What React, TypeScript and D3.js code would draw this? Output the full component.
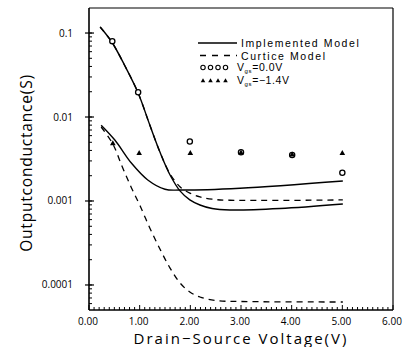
import React from "react";
import * as d3 from "d3";

// Drain-source voltage (V) vs output conductance (S)
const implV0_V = [0.22, 0.45, 0.71, 0.97, 1.2, 1.4, 1.6, 1.8, 1.99, 2.19, 2.43, 2.78, 3.77, 5.01];
const implV0_G = [0.118, 0.0782, 0.0405, 0.0193, 0.00803, 0.00383, 0.00204, 0.00131, 0.00103, 0.000896, 0.000813, 0.000781, 0.000813, 0.00092];

const implV14_V = [0.24, 0.51, 0.84, 1.16, 1.5, 1.8, 2.98, 5.01];
const implV14_G = [0.0080, 0.00532, 0.00281, 0.00178, 0.00138, 0.00135, 0.00142, 0.00173];

const curtV0_V = [0.22, 0.45, 0.71, 0.97, 1.2, 1.4, 1.6, 1.8, 1.99, 2.19, 2.43, 2.78, 5.01];
const curtV0_G = [0.118, 0.0782, 0.0405, 0.0193, 0.00803, 0.00383, 0.0021, 0.00147, 0.00124, 0.00112, 0.00105, 0.00102, 0.00103];

const curtV14_V = [0.24, 0.47, 0.65, 0.83, 1.01, 1.2, 1.4, 1.6, 1.8, 1.99, 2.19, 2.49, 2.98, 5.01];
const curtV14_G = [0.0076, 0.00478, 0.00261, 0.00147, 0.00087, 0.000477, 0.000268, 0.000159, 0.000105, 0.0000824, 0.0000719, 0.0000653, 0.0000636, 0.0000627];

const measV0_V = [0.46, 0.97, 1.99, 3.0, 4.01, 5.0];
const measV0_G = [0.080, 0.0197, 0.0051, 0.0038, 0.00353, 0.00217];

const measV14_V = [0.47, 0.99, 2.0, 3.0, 4.01, 5.0];
const measV14_G = [0.0049, 0.00376, 0.00376, 0.0038, 0.0036, 0.00376];

const xTicks = [0, 1, 2, 3, 4, 5, 6];
const xTickLabels = ["0.00", "1.00", "2.00", "3.00", "4.00", "5.00", "6.00"];
const yTicks = [0.1, 0.01, 0.001, 0.0001];
const yTickLabels = ["0.1", "0.01", "0.001", "0.0001"];

const legendLabels = ["Implemented Model", "Curtice Model", "V", "V"];

const W = 407;
const H = 347;
const L = 89, R = 393, T = 8, B = 310;
const FONT = "'Open Sans', 'DejaVu Sans', sans-serif";
const LFONT = "'Liberation Sans', Arial, sans-serif";

export default function App() {
  const x = d3.scaleLinear().domain([0, 6]).range([L, R]);
  const y = d3.scaleLog().domain([Math.pow(10, -4.298), Math.pow(10, -0.702)]).range([B, T]);

  const line = d3
    .line<[number, number]>()
    .x((d) => x(d[0]))
    .y((d) => y(d[1]))
    .curve(d3.curveCatmullRom.alpha(0.5));

  const zip = (a: number[], b: number[]) => a.map((v, i) => [v, b[i]] as [number, number]);

  const xMinor = d3.range(0, 60.5, 1).map((i) => i / 10);
  const yMinor: number[] = [];
  for (let e = -5; e <= 0; e++) {
    for (let m = 1; m <= 9; m++) {
      const v = m * Math.pow(10, e);
      if (v >= y.domain()[0] && v <= y.domain()[1]) yMinor.push(v);
    }
  }

  const tri = (cx: number, cy: number, s = 2.8) =>
    `M${cx},${cy - s} L${cx + s},${cy + s * 0.8} L${cx - s},${cy + s * 0.8} Z`;

  return (
    <svg
      width={W}
      height={H}
      style={{ position: "absolute", left: 0, top: 0, background: "#fff" }}
      fontFamily={FONT}
    >
      {/* frame */}
      <line x1={L} x2={R} y1={T} y2={T} stroke="#000" strokeWidth={1.2} />
      <line x1={R} x2={R} y1={T} y2={B} stroke="#000" strokeWidth={1.2} />
      <line x1={L} x2={R} y1={B} y2={B} stroke="#000" strokeWidth={1.6} />
      <line x1={L} x2={L} y1={T} y2={B} stroke="#000" strokeWidth={1.6} />

      {/* x ticks */}
      {xMinor.map((v, i) => (
        <line key={"xm" + i} x1={x(v)} x2={x(v)} y1={B} y2={B - (i % 10 === 0 ? 5 : 3)} stroke="#000" strokeWidth={1} />
      ))}
      {xTicks.map((v, i) => (
        <text key={"xt" + i} x={x(v) - 1} y={B + 15} fontSize={10} textAnchor="middle" fill="#000">
          {xTickLabels[i]}
        </text>
      ))}

      {/* y ticks */}
      {yMinor.map((v, i) => (
        <line key={"ym" + i} x1={L} x2={L + 3} y1={y(v)} y2={y(v)} stroke="#000" strokeWidth={1} />
      ))}
      {yTicks.map((v, i) => (
        <g key={"yt" + i}>
          <line x1={L - 4} x2={L + 5} y1={y(v)} y2={y(v)} stroke="#000" strokeWidth={1.2} />
          <text x={L - 16} y={y(v) + 3.5} fontSize={10} textAnchor="end" fill="#000">
            {yTickLabels[i]}
          </text>
        </g>
      ))}

      {/* axis titles */}
      <text x={241} y={344} fontSize={15} textAnchor="middle" letterSpacing={2} fill="#000">
        Drain−Source Voltage(V)
      </text>
      <text
        transform="translate(32,163) rotate(-90)"
        fontSize={15.5}
        textAnchor="middle"
        letterSpacing={0.8}
        fill="#000"
      >
        Outputconductance(S)
      </text>

      {/* curves */}
      <path d={line(zip(implV0_V, implV0_G)) || ""} fill="none" stroke="#000" strokeWidth={1.4} />
      <path d={line(zip(implV14_V, implV14_G)) || ""} fill="none" stroke="#000" strokeWidth={1.4} />
      <path d={line(zip(curtV0_V, curtV0_G)) || ""} fill="none" stroke="#000" strokeWidth={1.3} strokeDasharray="6,5" />
      <path d={line(zip(curtV14_V, curtV14_G)) || ""} fill="none" stroke="#000" strokeWidth={1.3} strokeDasharray="6,5" />

      {/* measured points */}
      {measV0_V.map((v, i) => (
        <circle key={"c" + i} cx={x(v)} cy={y(measV0_G[i])} r={2.6} fill="#fff" stroke="#000" strokeWidth={1.3} />
      ))}
      {measV14_V.map((v, i) => (
        <path key={"t" + i} d={tri(x(v), y(measV14_G[i]))} fill="#000" />
      ))}

      {/* legend */}
      <g fontSize={10.5} fill="#000" fontFamily={LFONT}>
        <line x1={198} x2={237} y1={43} y2={43} stroke="#000" strokeWidth={1.3} />
        <text x={241} y={47} letterSpacing={1.6}>{legendLabels[0]}</text>

        <line x1={200} x2={237} y1={55.5} y2={55.5} stroke="#000" strokeWidth={1.3} strokeDasharray="6,6" />
        <text x={241} y={59.5} letterSpacing={1.6}>{legendLabels[1]}</text>

        {[0, 1, 2, 3].map((k) => (
          <circle key={"lc" + k} cx={203 + k * 7.5} cy={67.5} r={2.2} fill="#fff" stroke="#000" strokeWidth={1.1} />
        ))}
        <text x={237} y={71} letterSpacing={0.6}>
          {legendLabels[2]}
          <tspan fontSize={6} dy={2}>gs</tspan>
          <tspan dy={-2}>=0.0V</tspan>
        </text>

        {[0, 1, 2, 3].map((k) => (
          <path key={"lt" + k} d={tri(203 + k * 7.5, 80.5, 2.3)} fill="#000" />
        ))}
        <text x={237} y={84} letterSpacing={0.6}>
          {legendLabels[3]}
          <tspan fontSize={6} dy={2}>gs</tspan>
          <tspan dy={-2}>=−1.4V</tspan>
        </text>
      </g>
    </svg>
  );
}
